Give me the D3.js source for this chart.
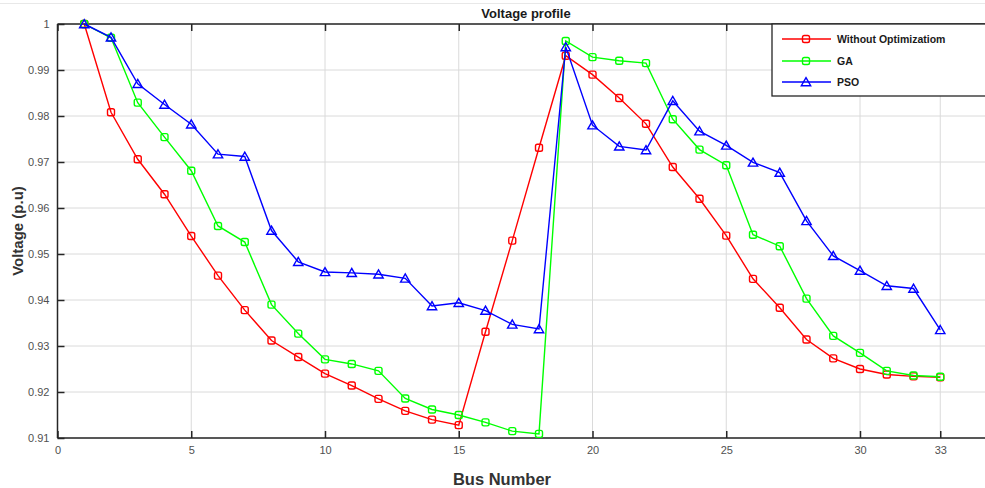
<!DOCTYPE html>
<html>
<head>
<meta charset="utf-8">
<script src="https://cdn.jsdelivr.net/npm/d3@7"></script>
<style>
  html, body { margin: 0; padding: 0; background: #fff; }
  svg { display: block; }
</style>
</head>
<body>
<svg id="chart" width="985" height="488"></svg>
<script>
// ---- Data ----
const buses = d3.range(1, 34);
const withoutOpt = [1.0000, 0.9808, 0.9706, 0.9630, 0.9539, 0.9453, 0.9378, 0.9312, 0.9276, 0.9240,
  0.9214, 0.9185, 0.9159, 0.9140, 0.9128, 0.9331, 0.9529, 0.9731, 0.9931, 0.9890,
  0.9839, 0.9783, 0.9689, 0.9620, 0.9540, 0.9446, 0.9383, 0.9314, 0.9273, 0.9250,
  0.9238, 0.9234, 0.9232];
const gaValues = [1.0000, 0.9970, 0.9829, 0.9754, 0.9681, 0.9561, 0.9526, 0.9390, 0.9327, 0.9271,
  0.9261, 0.9246, 0.9186, 0.9162, 0.9150, 0.9134, 0.9115, 0.9109, 0.9963, 0.9928,
  0.9920, 0.9915, 0.9793, 0.9727, 0.9693, 0.9542, 0.9517, 0.9403, 0.9322, 0.9285,
  0.9246, 0.9236, 0.9233];
const psoValues = [1.0000, 0.9971, 0.9870, 0.9825, 0.9782, 0.9717, 0.9712, 0.9551, 0.9483, 0.9461,
  0.9459, 0.9456, 0.9447, 0.9387, 0.9394, 0.9377, 0.9347, 0.9337, 0.9950, 0.9780,
  0.9734, 0.9726, 0.9833, 0.9767, 0.9736, 0.9699, 0.9677, 0.9572, 0.9496, 0.9464,
  0.9431, 0.9425, 0.9335];
const seriesNames = ["Without Optimizatiom", "GA", "PSO"];
const xTicks = [0, 5, 10, 15, 20, 25, 30, 33];
const yTicks = [0.91, 0.92, 0.93, 0.94, 0.95, 0.96, 0.97, 0.98, 0.99, 1];
const titleText = "Voltage profile";
const xLabel = "Bus Number";
const yLabel = "Voltage (p.u)";

const series = [
  { name: seriesNames[0], values: withoutOpt, color: "#ff0000", marker: "square" },
  { name: seriesNames[1], values: gaValues, color: "#00ff00", marker: "square" },
  { name: seriesNames[2], values: psoValues, color: "#0000ff", marker: "triangle" }
];

// ---- Layout ----
const svg = d3.select("#chart");
const plotLeft = 57.5, plotTop = 24, plotBottom = 438;
const x = d3.scaleLinear().domain([0, 35]).range([plotLeft, plotLeft + 35 * 26.75]);
const y = d3.scaleLinear().domain([0.91, 1]).range([plotBottom, plotTop]);
const plotRight = 985;

// page separator line at the very top
svg.append("line").attr("x1", 0).attr("x2", 985).attr("y1", 3.5).attr("y2", 3.5)
  .attr("stroke", "#e8e8e8").attr("stroke-width", 1);

// gridlines
const grid = svg.append("g");
yTicks.forEach(t => {
  grid.append("line").attr("x1", plotLeft).attr("x2", plotRight)
    .attr("y1", y(t)).attr("y2", y(t))
    .attr("stroke", "#dadada").attr("stroke-width", 1);
});
xTicks.forEach(t => {
  grid.append("line").attr("x1", x(t)).attr("x2", x(t))
    .attr("y1", plotTop).attr("y2", plotBottom)
    .attr("stroke", "#dadada").attr("stroke-width", 1);
});

// axes
const axisColor = "#262626";
const xAxisB = d3.axisBottom(x).tickValues(xTicks).tickSize(-7).tickPadding(8).tickFormat(d3.format("d"));
const gxb = svg.append("g").attr("transform", `translate(0,${plotBottom})`).call(xAxisB);
const xAxisT = d3.axisTop(x).tickValues(xTicks).tickSize(-7).tickFormat("");
const gxt = svg.append("g").attr("transform", `translate(0,${plotTop})`).call(xAxisT);
const yAxisL = d3.axisLeft(y).tickValues(yTicks).tickSize(-7).tickPadding(8)
  .tickFormat(d => d === 1 ? "1" : d3.format(".2f")(d));
const gyl = svg.append("g").attr("transform", `translate(${plotLeft},0)`).call(yAxisL);

[gxb, gxt, gyl].forEach(g => {
  g.select(".domain").remove();
  g.selectAll(".tick line").attr("stroke", axisColor).attr("stroke-width", 1.5);
  g.selectAll(".tick text").attr("fill", "#505050")
    .style("font-family", "Arial, 'Liberation Sans', sans-serif").style("font-size", "11px");
});
// axis box lines
svg.append("line").attr("x1", plotLeft).attr("x2", plotRight).attr("y1", plotBottom).attr("y2", plotBottom)
  .attr("stroke", axisColor).attr("stroke-width", 1.5);
svg.append("line").attr("x1", plotLeft).attr("x2", plotRight).attr("y1", plotTop).attr("y2", plotTop)
  .attr("stroke", axisColor).attr("stroke-width", 1.5);
svg.append("line").attr("x1", plotLeft).attr("x2", plotLeft).attr("y1", plotTop).attr("y2", plotBottom)
  .attr("stroke", axisColor).attr("stroke-width", 1.5);

// lines + markers
const line = d3.line().x((d, i) => x(buses[i])).y(d => y(d));
const tri = d3.symbol().type(d3.symbolTriangle).size(38);

function drawMarker(g, cx, cy, s) {
  if (s.marker === "square") {
    g.append("rect").attr("x", cx - 3.5).attr("y", cy - 3.5).attr("width", 7).attr("height", 7)
      .attr("rx", 1.8).attr("fill", "none").attr("stroke", s.color).attr("stroke-width", 1.4);
  } else {
    g.append("path").attr("d", tri()).attr("transform", `translate(${cx},${cy + 1})`)
      .attr("fill", "none").attr("stroke", s.color).attr("stroke-width", 1.4);
  }
}

series.forEach(s => {
  const g = svg.append("g");
  g.append("path").datum(s.values).attr("d", line)
    .attr("fill", "none").attr("stroke", s.color).attr("stroke-width", 1.4);
  s.values.forEach((v, i) => drawMarker(g, x(buses[i]), y(v), s));
});

// legend
const lg = svg.append("g");
lg.append("rect").attr("x", 772).attr("y", plotTop).attr("width", 230).attr("height", 72)
  .attr("fill", "#fff").attr("stroke", axisColor).attr("stroke-width", 1.3);
const legendY = [39, 61, 82];
series.forEach((s, i) => {
  const ly = legendY[i];
  lg.append("line").attr("x1", 782).attr("x2", 831).attr("y1", ly).attr("y2", ly)
    .attr("stroke", s.color).attr("stroke-width", 1.4);
  drawMarker(lg, 806, ly, s);
  lg.append("text").attr("x", 837).attr("y", ly).attr("dy", "0.35em")
    .attr("fill", "#1a1a1a").style("font-family", "Arial, 'Liberation Sans', sans-serif")
    .style("font-size", "10.5px").style("font-weight", "bold").text(s.name);
});

// title and labels
svg.append("text").attr("x", 526).attr("y", 18).attr("text-anchor", "middle")
  .attr("fill", "#1a1a1a").style("font-family", "Arial, 'Liberation Sans', sans-serif")
  .style("font-size", "13px").style("font-weight", "bold").text(titleText);
svg.append("text").attr("x", 502).attr("y", 485).attr("text-anchor", "middle")
  .attr("fill", "#333").style("font-family", "Arial, 'Liberation Sans', sans-serif")
  .style("font-size", "16.5px").style("font-weight", "bold").text(xLabel);
svg.append("text").attr("transform", "translate(23,231) rotate(-90)").attr("text-anchor", "middle")
  .attr("fill", "#333").style("font-family", "Arial, 'Liberation Sans', sans-serif")
  .style("font-size", "15px").style("font-weight", "bold").text(yLabel);
</script>
</body>
</html>
